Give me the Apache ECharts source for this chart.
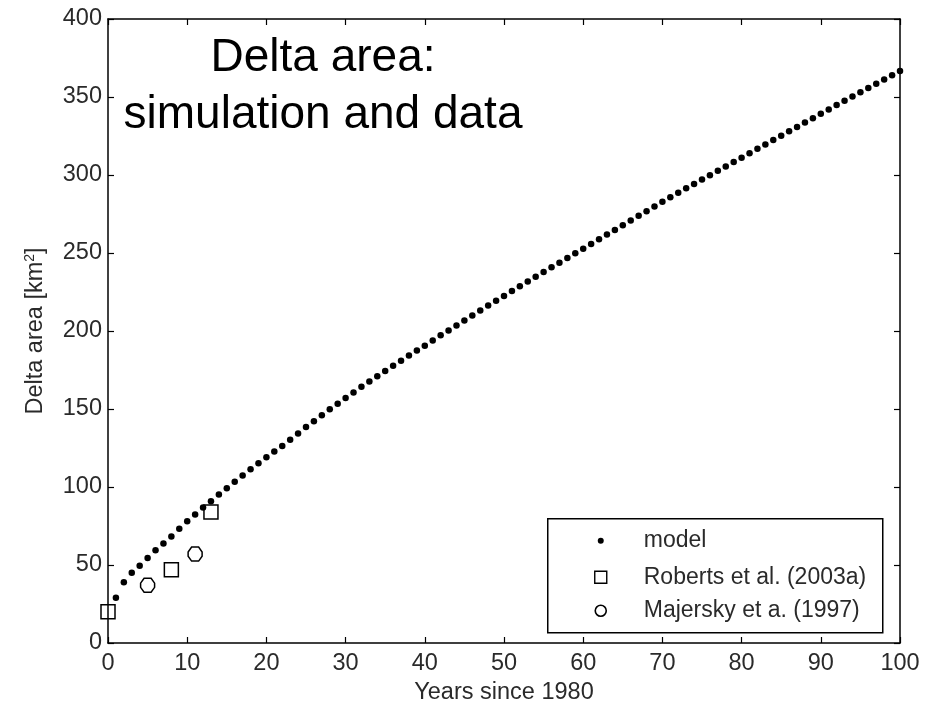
<!DOCTYPE html>
<html>
<head>
<meta charset="utf-8">
<script src="https://cdn.jsdelivr.net/npm/echarts@6/dist/echarts.min.js"></script>
<style>html,body{margin:0;padding:0;background:#fff}#c{width:936px;height:705px}</style>
</head>
<body>
<div id="c"></div>
<script>
// ---- data ----
const modelYears = [1,2,3,4,5,6,7,8,9,10,11,12,13,14,15,16,17,18,19,20,21,22,23,24,25,26,27,28,29,30,31,32,33,34,35,36,37,38,39,40,41,42,43,44,45,46,47,48,49,50,51,52,53,54,55,56,57,58,59,60,61,62,63,64,65,66,67,68,69,70,71,72,73,74,75,76,77,78,79,80,81,82,83,84,85,86,87,88,89,90,91,92,93,94,95,96,97,98,99,100];
const modelArea = [29.0,39.0,45.0,49.5,54.5,59.5,63.8,68.3,73.2,78.0,82.4,86.8,90.8,95.2,99.2,103.3,107.4,111.4,115.2,119.0,122.7,126.3,130.3,134.3,138.4,142.2,146.0,149.8,153.4,157.0,160.6,164.2,167.6,171.0,174.4,177.7,181.0,184.3,187.5,190.6,193.9,197.2,200.4,203.6,206.8,210.0,213.2,216.3,219.4,222.5,225.6,228.7,231.8,234.8,237.8,240.8,243.8,246.8,249.8,252.8,255.8,258.8,261.8,264.8,267.8,270.8,273.8,276.8,279.8,282.8,285.7,288.6,291.5,294.3,297.1,299.9,302.7,305.5,308.3,311.1,313.9,316.8,319.6,322.4,325.2,328.0,330.8,333.6,336.4,339.2,342.0,344.8,347.6,350.4,353.1,355.8,358.5,361.2,363.9,366.6];
const robertsYears = [0, 8, 13];
const robertsArea = [20, 47, 84];
const majerskyYears = [5, 11];
const majerskyArea = [37, 57];
const legendNames = ['model', 'Roberts et al. (2003a)', 'Majersky et a. (1997)'];
const titleText = 'Delta area:\nsimulation and data';
const xName = 'Years since 1980';
const yName = 'Delta area [km{s|2}]';

const FONT = "'Liberation Sans', Arial, sans-serif";
const zip = (a, b) => a.map((v, i) => [v, b[i]]);

const chart = echarts.init(document.getElementById('c'), null, {renderer: 'canvas'});
const axisLine = {show: true, onZero: false, lineStyle: {color: '#000', width: 1.5}};
const tick = {show: true, inside: true, length: 6, lineStyle: {color: '#000', width: 1.2}};
const lbl = {fontSize: 23.5, color: '#2a2a2a', fontFamily: FONT};

chart.setOption({
  backgroundColor: '#fff',
  animation: false,
  title: {
    text: titleText, left: 323, top: 30, textAlign: 'center', padding: 0,
    textStyle: {fontSize: 46, fontWeight: 'normal', color: '#000', lineHeight: 57, fontFamily: FONT}
  },
  grid: {left: 108, right: 36, top: 19, bottom: 62, containLabel: false, outerBoundsMode: 'none'},
  xAxis: [
    {type: 'value', min: 0, max: 100, interval: 10, position: 'bottom',
     axisLine, axisTick: tick, splitLine: {show: false},
     axisLabel: Object.assign({margin: 9}, lbl),
     name: xName, nameLocation: 'middle', nameGap: 36, nameTextStyle: lbl},
    {type: 'value', min: 0, max: 100, interval: 10, position: 'top',
     axisLine, axisTick: tick, splitLine: {show: false}, axisLabel: {show: false}}
  ],
  yAxis: [
    {type: 'value', min: 0, max: 400, interval: 50, position: 'left',
     axisLine, axisTick: tick, splitLine: {show: false},
     axisLabel: Object.assign({margin: 6}, lbl),
     name: yName, nameLocation: 'middle', nameGap: 59,
     nameTextStyle: Object.assign({rich: {s: {fontSize: 14, color: '#2a2a2a', fontFamily: FONT, verticalAlign: 'top', padding: [0, 0, 12, 0]}}}, lbl)},
    {type: 'value', min: 0, max: 400, interval: 50, position: 'right',
     axisLine, axisTick: tick, splitLine: {show: false}, axisLabel: {show: false}}
  ],
  series: [
    {name: legendNames[0], type: 'scatter', data: zip(modelYears, modelArea),
     symbol: 'circle', symbolSize: 6.5, itemStyle: {color: '#000', opacity: 1}},
    {name: legendNames[1], type: 'scatter', data: zip(robertsYears, robertsArea),
     symbol: 'rect', symbolSize: 14, itemStyle: {color: 'rgba(0,0,0,0)', borderColor: '#000', borderWidth: 1.5, opacity: 1}, z: 3},
    {name: legendNames[2], type: 'scatter', data: zip(majerskyYears, majerskyArea),
     symbol: 'path://M-1,-2 L1,-2 L2,-0.6 L2,0.6 L1,2 L-1,2 L-2,0.6 L-2,-0.6 Z', symbolSize: 14,
     itemStyle: {color: 'rgba(0,0,0,0)', borderColor: '#000', borderWidth: 1.5, opacity: 1}, z: 3},
    {name: 'frame', type: 'scatter', xAxisIndex: 1, yAxisIndex: 1, data: [], silent: true}
  ],
  graphic: [
    {type: 'group', left: 547, top: 518, z: 10, children: [
      {type: 'rect', shape: {x: 0, y: 0, width: 335, height: 114}, style: {fill: '#fff', stroke: '#000', lineWidth: 1.5}},
      {type: 'circle', shape: {cx: 53, cy: 22, r: 3}, style: {fill: '#000'}},
      {type: 'rect', shape: {x: 47, y: 52.5, width: 12, height: 12}, style: {fill: 'none', stroke: '#000', lineWidth: 1.4}},
      {type: 'circle', shape: {cx: 53, cy: 92, r: 5.5}, style: {fill: 'none', stroke: '#000', lineWidth: 1.6}},
      {type: 'text', x: 96, y: 22, style: {text: legendNames[0], fontSize: 23, fill: '#2a2a2a', fontFamily: FONT, verticalAlign: 'middle'}},
      {type: 'text', x: 96, y: 58.5, style: {text: legendNames[1], fontSize: 23, fill: '#2a2a2a', fontFamily: FONT, verticalAlign: 'middle'}},
      {type: 'text', x: 96, y: 92, style: {text: legendNames[2], fontSize: 23, fill: '#2a2a2a', fontFamily: FONT, verticalAlign: 'middle'}}
    ]}
  ]
});
</script>
</body>
</html>
